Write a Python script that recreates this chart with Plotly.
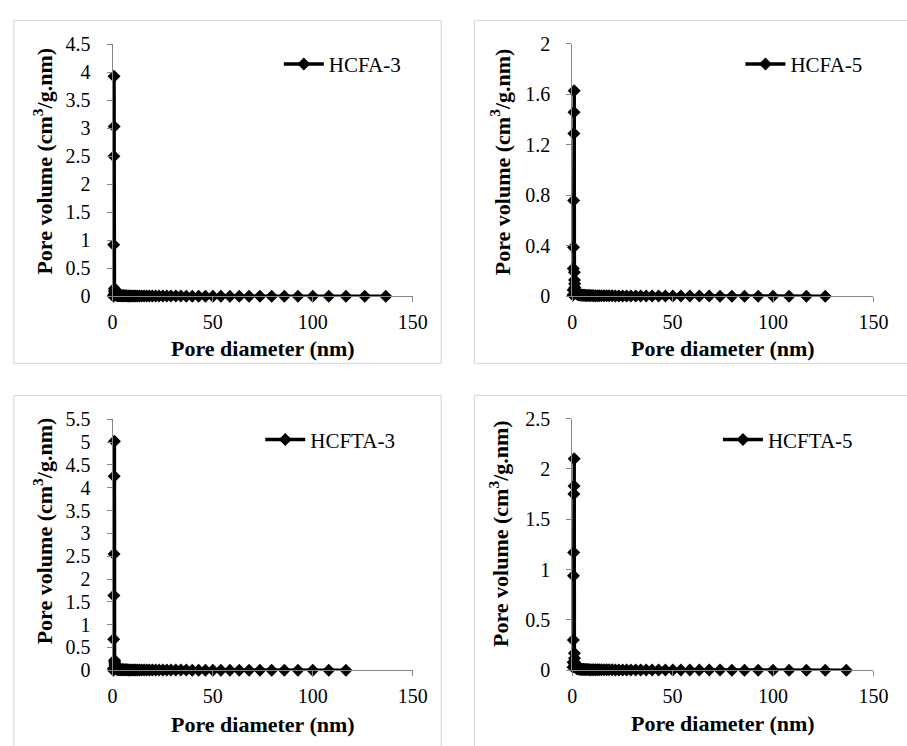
import plotly.graph_objects as go

# Pore diameters (nm) shared by the four samples
diameter = [0.36, 0.45, 0.55, 0.64, 0.73, 0.82, 0.92, 0.99, 1.07, 1.15,
            1.24, 1.34, 1.45, 1.57, 1.69, 1.83, 1.98, 2.13, 2.30, 2.49,
            2.69, 2.90, 3.14, 3.39, 3.66, 3.95, 4.27, 4.61, 4.98, 5.38,
            5.81, 6.27, 6.78, 7.32, 7.90, 8.54, 9.22, 9.96, 10.8, 11.6,
            12.5, 13.5, 14.6, 15.8, 17.1, 18.4, 19.9, 21.5, 23.2, 25.1,
            27.1, 29.2, 31.6, 34.1, 36.8, 39.8, 43.0, 46.4, 50.1, 54.1,
            58.6, 63.3, 68.2, 73.6, 79.5, 85.8, 92.6, 100.0, 108.0, 116.6,
            126.0, 136.5]

# Pore volume distributions (cm3/g.nm)
hcfa3 = [0.00, 0.02, 0.92, 2.50, 3.93, 3.03, 0.14, 0.11, 0.08, 0.06, 0.05, 0.04, 0.035, 0.03, 0.028, 0.025, 0.022,
         0.020, 0.019, 0.018, 0.017, 0.016, 0.015, 0.014, 0.013, 0.013, 0.012,
         0.011, 0.011, 0.010, 0.010, 0.009, 0.009, 0.008, 0.008, 0.008, 0.007,
         0.007, 0.007, 0.006, 0.006, 0.006, 0.006, 0.005, 0.005, 0.005, 0.005,
         0.005, 0.004, 0.004, 0.004, 0.004, 0.004, 0.004, 0.003, 0.003, 0.003,
         0.003, 0.003, 0.003, 0.003, 0.003, 0.002, 0.002, 0.002, 0.002, 0.002,
         0.002, 0.002, 0.002, 0.001, 0.001]

hcfa5 = [0.01, 0.05, 0.22, 0.39, 0.76, 1.29, 1.46, 1.63, 0.19, 0.13, 0.10, 0.07, 0.05, 0.04, 0.035, 0.03, 0.025,
         0.022, 0.020, 0.018, 0.016, 0.015, 0.014, 0.013, 0.012, 0.011, 0.010,
         0.010, 0.009, 0.009, 0.008, 0.008, 0.007, 0.007, 0.007, 0.006, 0.006,
         0.006, 0.005, 0.005, 0.005, 0.005, 0.004, 0.004, 0.004, 0.004, 0.004,
         0.003, 0.003, 0.003, 0.003, 0.003, 0.003, 0.003, 0.002, 0.002, 0.002,
         0.002, 0.002, 0.002, 0.002, 0.002, 0.002, 0.001, 0.001, 0.001, 0.001,
         0.001, 0.001, 0.001, 0.001]

hcfta3 = [0.00, 0.04, 0.68, 1.64, 2.55, 4.25, 5.02, 0.22, 0.18, 0.14, 0.10, 0.08, 0.06, 0.05, 0.04, 0.035, 0.03,
          0.027, 0.024, 0.022, 0.020, 0.018, 0.017, 0.016, 0.015, 0.014, 0.013,
          0.012, 0.011, 0.011, 0.010, 0.010, 0.009, 0.009, 0.008, 0.008, 0.008,
          0.007, 0.007, 0.007, 0.006, 0.006, 0.006, 0.006, 0.005, 0.005, 0.005,
          0.005, 0.005, 0.004, 0.004, 0.004, 0.004, 0.004, 0.004, 0.003, 0.003,
          0.003, 0.003, 0.003, 0.003, 0.003, 0.003, 0.002, 0.002, 0.002, 0.002,
          0.002, 0.002, 0.002]

hcfta5 = [0.03, 0.08, 0.30, 0.94, 1.17, 1.75, 1.83, 2.10, 0.17, 0.12, 0.08, 0.06, 0.05, 0.04, 0.035, 0.03, 0.025,
          0.022, 0.020, 0.018, 0.016, 0.015, 0.014, 0.013, 0.012, 0.011, 0.010,
          0.010, 0.009, 0.009, 0.008, 0.008, 0.007, 0.007, 0.007, 0.006, 0.006,
          0.006, 0.005, 0.005, 0.005, 0.005, 0.004, 0.004, 0.004, 0.004, 0.004,
          0.003, 0.003, 0.003, 0.003, 0.003, 0.003, 0.003, 0.002, 0.002, 0.002,
          0.002, 0.002, 0.002, 0.002, 0.002, 0.002, 0.002, 0.001, 0.001, 0.001,
          0.001, 0.001, 0.001, 0.001, 0.001]

samples = ["HCFA-3", "HCFA-5", "HCFTA-3", "HCFTA-5"]
volumes = [hcfa3, hcfa5, hcfta3, hcfta5]
y_max = [4.5, 2.0, 5.5, 2.5]
y_step = [0.5, 0.4, 0.5, 0.5]

W, H = 907, 746
FONT = "Liberation Serif"
AXIS_GREY = "#868686"

# pixel layout of each panel: plot area left/right/top/bottom, frame box, legend anchor
panels = [
    dict(l=110, r=417, t=34.3, b=294, box=(9, 446, 10, 363), leg=(280, 55), ytx=39, yty=155, xty=348),
    dict(l=580, r=888, t=34, b=294, box=(480, 930, 10, 363), leg=(752, 55), ytx=507, yty=155, xty=348),
    dict(l=110, r=417, t=420.7, b=679.3, box=(9, 446, 396, 760), leg=(261, 442), ytx=39, yty=536, xty=735),
    dict(l=580, r=888, t=420, b=679.3, box=(480, 930, 396, 760), leg=(729, 442), ytx=505, yty=538, xty=734),
]


def px(x):
    return x / W


def py(y):
    return 1 - y / H


fig = go.Figure()
layout = dict(width=W, height=H, margin=dict(l=0, r=0, t=0, b=0),
              paper_bgcolor="white", plot_bgcolor="white", showlegend=True,
              shapes=[], annotations=[])

for i, (name, vol, p) in enumerate(zip(samples, volumes, panels)):
    k = "" if i == 0 else str(i + 1)
    n = len(vol)
    fig.add_trace(go.Scatter(
        x=diameter[:n], y=vol, name=name, mode="lines+markers",
        line=dict(color="black", width=3.5),
        marker=dict(symbol="diamond", size=10, color="black"),
        cliponaxis=False,
        xaxis="x" + k, yaxis="y" + k, legend="legend" + k,
    ))
    axis_common = dict(showline=True, linecolor=AXIS_GREY, linewidth=1,
                       ticks="outside", tickcolor=AXIS_GREY, ticklen=5,
                       showgrid=False, zeroline=False, fixedrange=True,
                       tickfont=dict(family=FONT, size=20, color="black"))
    layout["xaxis" + k] = dict(domain=[px(p["l"]), px(p["r"])], range=[0, 150],
                               tickmode="linear", tick0=0, dtick=50,
                               anchor="y" + k, ticklabelstandoff=3, **axis_common)
    layout["yaxis" + k] = dict(domain=[py(p["b"]), py(p["t"])], range=[0, y_max[i]],
                               tickmode="linear", tick0=0, dtick=y_step[i],
                               anchor="x" + k, ticklabelstandoff=12, **axis_common)
    bx0, bx1, by0, by1 = p["box"]
    layout["shapes"].append(dict(type="rect", xref="paper", yref="paper",
                                 x0=px(bx0), x1=px(bx1), y0=py(by1), y1=py(by0),
                                 line=dict(color="#d4d4d4", width=1), layer="below"))
    lx, ly = p["leg"]
    layout["legend" + k] = dict(x=px(lx), y=py(ly), xanchor="left", yanchor="middle",
                                bgcolor="rgba(0,0,0,0)", itemwidth=40,
                                font=dict(family=FONT, size=21, color="black"))
    layout["annotations"].append(dict(
        text="<b>Pore diameter (nm)</b>", xref="paper", yref="paper",
        x=px((p["l"] + p["r"]) / 2), y=py(p["xty"]), xanchor="center", yanchor="middle",
        showarrow=False, font=dict(family=FONT, size=22, color="black")))
    layout["annotations"].append(dict(
        text="<b>Pore volume (cm<sup>3</sup>/g.nm)</b>", xref="paper", yref="paper",
        x=px(p["ytx"]), y=py(p["yty"]), xanchor="center", yanchor="middle",
        textangle=-90, showarrow=False, font=dict(family=FONT, size=22, color="black")))

fig.update_layout(**layout)
fig.write_html("out.html")
